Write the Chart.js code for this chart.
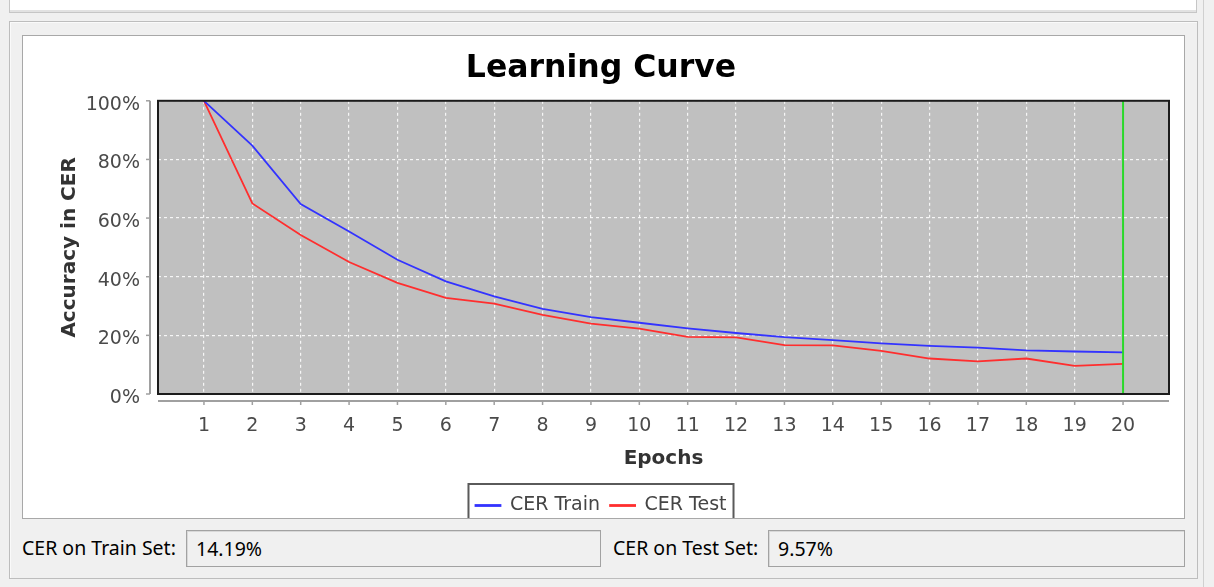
<!DOCTYPE html>
<html>
<head>
<meta charset="utf-8">
<script src="https://cdn.jsdelivr.net/npm/chart.js"></script>
<style>
  html, body { margin: 0; padding: 0; }
  body { width: 1214px; height: 587px; background: #f0f0f0; position: relative; overflow: hidden; font-family: 'Noto Sans', sans-serif; }
  .abs { position: absolute; box-sizing: border-box; }
  #topPanel { left: 9px; top: -4px; width: 1188px; height: 17px; background: #fff; border: 1px solid #c6c6c6; box-shadow: inset 0 -2px 0 #e2e2e2; }
  #outerPanel { left: 9px; top: 21px; width: 1189px; height: 558px; border: 1px solid #bdbdbd; box-shadow: inset 1px 1px 0 #fafafa; }
  #rightStrip { left: 1203px; top: 0; width: 11px; height: 587px; border-left: 1px solid #d0d0d0; background: #f0f0f0; }
  #chartPanel { left: 22px; top: 35px; width: 1163px; height: 484px; background: #fff; border: 1px solid #a8a8a8; overflow: hidden; }
  #chartPanel canvas { position: absolute; left: 0; top: 0; }
  .lbl { font-size: 19.5px; color: #000; line-height: 36px; top: 530px; white-space: nowrap; }
  .field { top: 530px; height: 37px; border: 1px solid #a2a2a2; box-shadow: inset 1px 1px 0 #d8d8d8; background: #f0f0f0; font-size: 19.5px; line-height: 35px; padding-left: 9px; color: #000; white-space: nowrap; }
</style>
</head>
<body>
<div id="topPanel" class="abs"></div>
<div id="rightStrip" class="abs"></div>
<div id="outerPanel" class="abs"></div>
<div id="chartPanel" class="abs"><canvas id="c" width="1161" height="500" style="width:1161px;height:500px"></canvas></div>
<div class="abs lbl" style="left:22px">CER on Train Set:</div>
<div class="abs field" style="left:186px;width:415px">14.19%</div>
<div class="abs lbl" style="left:613px">CER on Test Set:</div>
<div class="abs field" style="left:768px;width:417px">9.57%</div>

<script>
// ---- data ----
const epochs = [1, 2, 3, 4, 5, 6, 7, 8, 9, 10, 11, 12, 13, 14, 15, 16, 17, 18, 19, 20];
const cerTrain = [100, 84.7, 64.8, 55.4, 45.8, 38.4, 33.3, 29.0, 26.2, 24.3, 22.4, 20.8, 19.4, 18.4, 17.3, 16.4, 15.8, 14.9, 14.5, 14.19];
const cerTest  = [100, 65.0, 54.2, 45.0, 37.9, 32.8, 30.8, 27.0, 24.0, 22.3, 19.5, 19.3, 16.7, 16.6, 14.7, 12.1, 11.1, 12.1, 9.57, 10.3];
const yTickValues = [0, 20, 40, 60, 80, 100];
const seriesNames = ['CER Train', 'CER Test'];
const seriesColors = ['#3333ff', '#ff2e2e'];
const markerEpoch = 20;
const chartTitle = 'Learning Curve';
const xTitle = 'Epochs';
const yTitle = 'Accuracy in CER';

Chart.defaults.font.family = "'DejaVu Sans', sans-serif";

const plotDecor = {
  id: 'plotDecor',
  beforeDraw(chart) {
    const { ctx, chartArea: a } = chart;
    ctx.save();
    ctx.fillStyle = '#c0c0c0';
    ctx.fillRect(a.left, a.top, a.right - a.left, a.bottom - a.top);
    ctx.restore();
  },
  afterDatasetsDraw(chart) {
    const { ctx, chartArea: a, scales: { x, y } } = chart;
    ctx.save();
    // marker line
    const gx = x.getPixelForValue(markerEpoch);
    ctx.strokeStyle = '#2ad82a';
    ctx.lineWidth = 2;
    ctx.beginPath(); ctx.moveTo(gx, a.top); ctx.lineTo(gx, a.bottom); ctx.stroke();
    // plot frame
    ctx.strokeStyle = '#1c1c1c';
    ctx.lineWidth = 2;
    ctx.strokeRect(a.left, a.top, a.right - a.left, a.bottom - a.top);
    // offset axis lines
    const ax = a.left - 8, ay = a.bottom + 7;
    ctx.strokeStyle = '#a0a0a0';
    ctx.lineWidth = 2;
    ctx.beginPath(); ctx.moveTo(ax, a.top); ctx.lineTo(ax, a.bottom); ctx.stroke();
    ctx.beginPath(); ctx.moveTo(a.left, ay); ctx.lineTo(a.right, ay); ctx.stroke();
    ctx.lineWidth = 1.5;
    y.ticks.forEach(t => {
      const py = y.getPixelForValue(t.value);
      ctx.beginPath(); ctx.moveTo(ax - 4, py); ctx.lineTo(ax, py); ctx.stroke();
    });
    x.ticks.forEach(t => {
      const px = x.getPixelForValue(t.value);
      ctx.beginPath(); ctx.moveTo(px, ay); ctx.lineTo(px, ay + 4); ctx.stroke();
    });
    ctx.restore();
  },
  afterDraw(chart) {
    const hb = chart.legend && chart.legend.legendHitBoxes;
    if (!hb || !hb.length) return;
    const { ctx } = chart;
    const l = Math.min(...hb.map(h => h.left)) - 7;
    const r = Math.max(...hb.map(h => h.left + h.width)) + 7;
    const t = hb[0].top - 12;
    ctx.save();
    ctx.strokeStyle = '#5a5a5a';
    ctx.lineWidth = 2;
    ctx.strokeRect(l, t, r - l, chart.height + 20 - t);
    ctx.restore();
  }
};

const gridStyle = {
  color: 'rgba(255,255,255,0.85)',
  lineWidth: 1.2,
  drawTicks: false
};

new Chart(document.getElementById('c'), {
  type: 'line',
  data: {
    datasets: [
      { label: seriesNames[0], data: epochs.map((e, i) => ({ x: e, y: cerTrain[i] })),
        borderColor: seriesColors[0], backgroundColor: seriesColors[0], borderWidth: 1.8, pointRadius: 0, tension: 0 },
      { label: seriesNames[1], data: epochs.map((e, i) => ({ x: e, y: cerTest[i] })),
        borderColor: seriesColors[1], backgroundColor: seriesColors[1], borderWidth: 1.8, pointRadius: 0, tension: 0 }
    ]
  },
  options: {
    responsive: false,
    animation: false,
    events: [],
    layout: { padding: { left: 10, right: 15, top: 0, bottom: 11 } },
    plugins: {
      title: {
        display: true, text: chartTitle, color: '#000',
        font: { size: 31.5, weight: 'bold' },
        padding: { top: 14, bottom: 13 }
      },
      legend: {
        position: 'bottom',
        labels: {
          color: '#454545', font: { size: 19 },
          boxWidth: 25, boxHeight: 1, padding: 10
        }
      },
      tooltip: { enabled: false }
    },
    scales: {
      x: {
        type: 'linear', min: 0.05, max: 20.95,
        afterBuildTicks: s => { s.ticks = epochs.map(v => ({ value: v })); },
        afterFit: s => { s.height = 92; },
        ticks: { color: '#4a4a4a', font: { size: 19 }, padding: 21, maxRotation: 0, autoSkip: false, callback: v => String(v) },
        grid: gridStyle,
        border: { display: false, dash: [3, 3] },
        title: { display: true, text: xTitle, color: '#333', font: { size: 20, weight: 'bold' }, padding: { top: 0, bottom: 15 } }
      },
      y: {
        type: 'linear', min: 0, max: 100,
        afterBuildTicks: s => { s.ticks = yTickValues.map(v => ({ value: v })); },
        afterFit: s => { s.width = 125; },
        ticks: { color: '#4a4a4a', font: { size: 19 }, padding: 18, labelOffset: 4, callback: v => v + '%' },
        grid: gridStyle,
        border: { display: false, dash: [3, 3] },
        title: { display: true, text: yTitle, color: '#333', font: { size: 20, weight: 'bold' }, padding: { top: 25, bottom: 0 } }
      }
    }
  },
  plugins: [plotDecor]
});
</script>
</body>
</html>
